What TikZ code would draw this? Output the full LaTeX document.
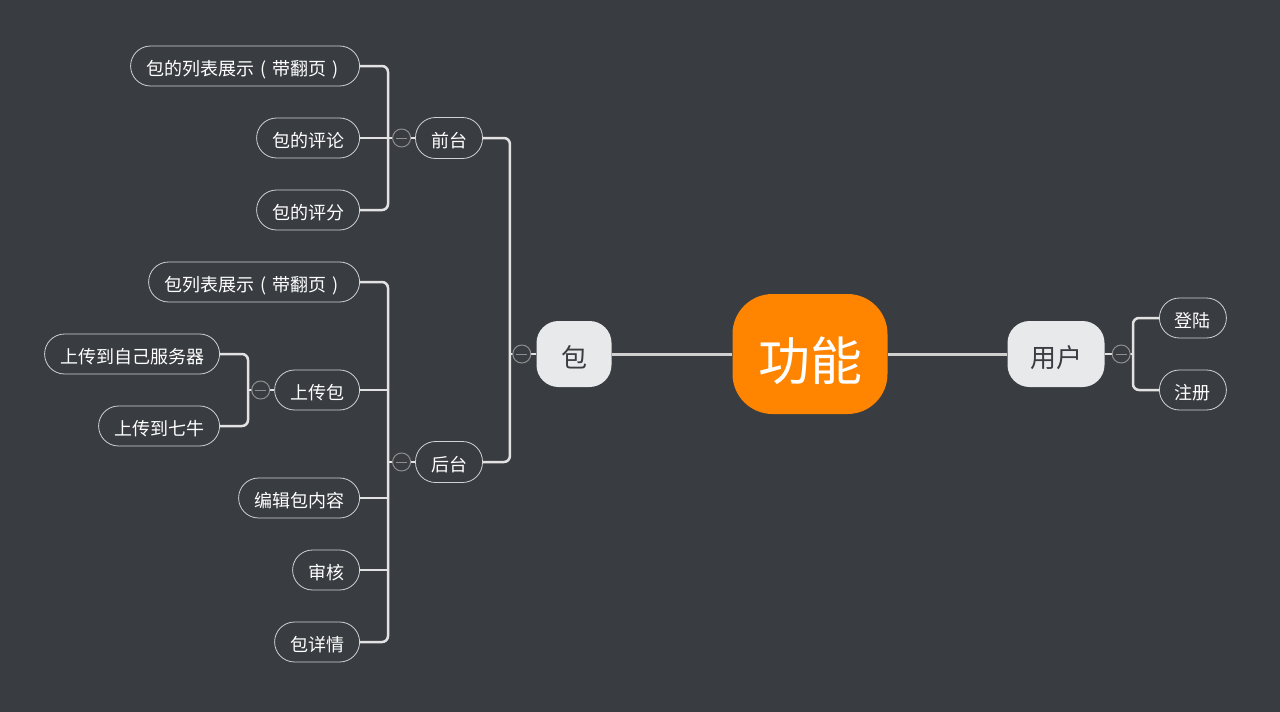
\documentclass[tikz,border=0pt]{standalone}
\usepackage{fontspec}
\setmainfont{Noto Sans CJK SC}
\usepackage{xcolor}
\usetikzlibrary{positioning}
\definecolor{bg}{HTML}{393C41}
\definecolor{rootorange}{HTML}{FF8400}
\definecolor{topicgray}{HTML}{E8E9EB}
\definecolor{linegray}{HTML}{E2E2E2}
\definecolor{foldgray}{HTML}{8E8E8E}
% centred full-width brackets
\newcommand{\cellparen}[1]{\makebox[1em]{#1}}

\begin{document}
\begin{tikzpicture}[
    x=1pt, y=-1pt,
    every node/.style={inner sep=0pt, font=\fontsize{18}{20}\selectfont,
        text height=18pt, text depth=0pt}
]
\tikzset{
    root/.style={fill=rootorange, text=white, rounded corners=40pt,
        minimum width=155pt, minimum height=120pt, font=\fontsize{52}{56}\selectfont,
        text height=53pt, text depth=0pt},
    topic/.style={fill=topicgray, text=bg, rounded corners=22pt, inner xsep=22.5pt,
        minimum width=75pt, minimum height=66pt, font=\fontsize{26}{28}\selectfont,
        text height=27pt, text depth=0pt},
    leaf/.style={draw=topicgray!90!black, line width=0.8pt, fill=bg, text=white,
        rounded corners=20pt, inner xsep=15.5pt, minimum height=40pt},
    mid/.style={leaf, minimum height=41pt},
    trunk/.style={draw=linegray!92!black, line width=3pt},
    branch/.style={draw=linegray, line width=2.5pt, rounded corners=6pt},
    fold/.style={circle, draw=foldgray, line width=1pt, fill=bg, minimum size=18pt,
        text height=0pt, text depth=0pt,
        path picture={\draw[foldgray, line width=1pt]
            ([xshift=3.5pt]path picture bounding box.west) --
            ([xshift=-3.5pt]path picture bounding box.east);}}
}
\fill[bg] (0,0) rectangle (1280,712);
\useasboundingbox (0,0) rectangle (1280,712);

% centre and main topics
\node[root] (gongneng) at (810,354) {功能};
\node[topic] (bao) at (574,354) {包};
\node[topic] (yonghu) at (1056,354) {用户};
\node[mid] (qiantai) at (449,138) {前台};
\node[mid] (houtai) at (449,462) {后台};

% leaves
\node[leaf, anchor=east] (liebiao) at (360,66)
    {包的列表展示\cellparen{(}带翻页\cellparen{)}};
\node[leaf, anchor=east] (pinglun) at (360,138) {包的评论};
\node[leaf, anchor=east] (pingfen) at (360,210) {包的评分};
\node[leaf, anchor=east] (baoliebiao) at (360,282)
    {包列表展示\cellparen{(}带翻页\cellparen{)}};
\node[leaf, anchor=east] (shangchuan) at (360,390) {上传包};
\node[leaf, anchor=east] (bianji) at (360,498) {编辑包内容};
\node[leaf, anchor=east] (shenhe) at (360,570) {审核};
\node[leaf, anchor=east] (xiangqing) at (360,642) {包详情};
\node[leaf, anchor=east] (ziji) at (220,354) {上传到自己服务器};
\node[leaf, anchor=east] (qiniu) at (220,426) {上传到七牛};
\node[leaf, anchor=west] (denglu) at (1159,318) {登陆};
\node[leaf, anchor=west] (zhuce) at (1159,390) {注册};

% connectors
\draw[trunk] (gongneng) -- (bao);
\draw[trunk] (gongneng) -- (yonghu);
\draw[branch] (bao.west) -- ++(-27,0);
\draw[branch] (qiantai.east) -- ++(27,0) |- (houtai.east);
\draw[branch] (qiantai.west) -- ++(-27,0);
\draw[branch] (liebiao.east) -- ++(28,0) |- (pingfen.east);
\draw[branch] (pinglun.east) -- ++(28,0);
\draw[branch] (houtai.west) -- ++(-27,0);
\draw[branch] (baoliebiao.east) -- ++(28,0) |- (xiangqing.east);
\foreach \n in {shangchuan, bianji, shenhe}
    \draw[branch] (\n.east) -- ++(28,0);
\draw[branch] (shangchuan.west) -- ++(-27,0);
\draw[branch] (ziji.east) -- ++(28,0) |- (qiniu.east);
\draw[branch] (yonghu.east) -- ++(28,0);
\draw[branch] (denglu.west) -- ++(-26,0) |- (zhuce.west);

% fold markers
\foreach \n/\g in {bao/5pt, qiantai/4pt, houtai/4pt, shangchuan/4pt}
    \node[fold, left=\g of \n] (fold-\n) {};
\node[fold, right=7pt of yonghu] (fold-yonghu) {};
\end{tikzpicture}
\end{document}
